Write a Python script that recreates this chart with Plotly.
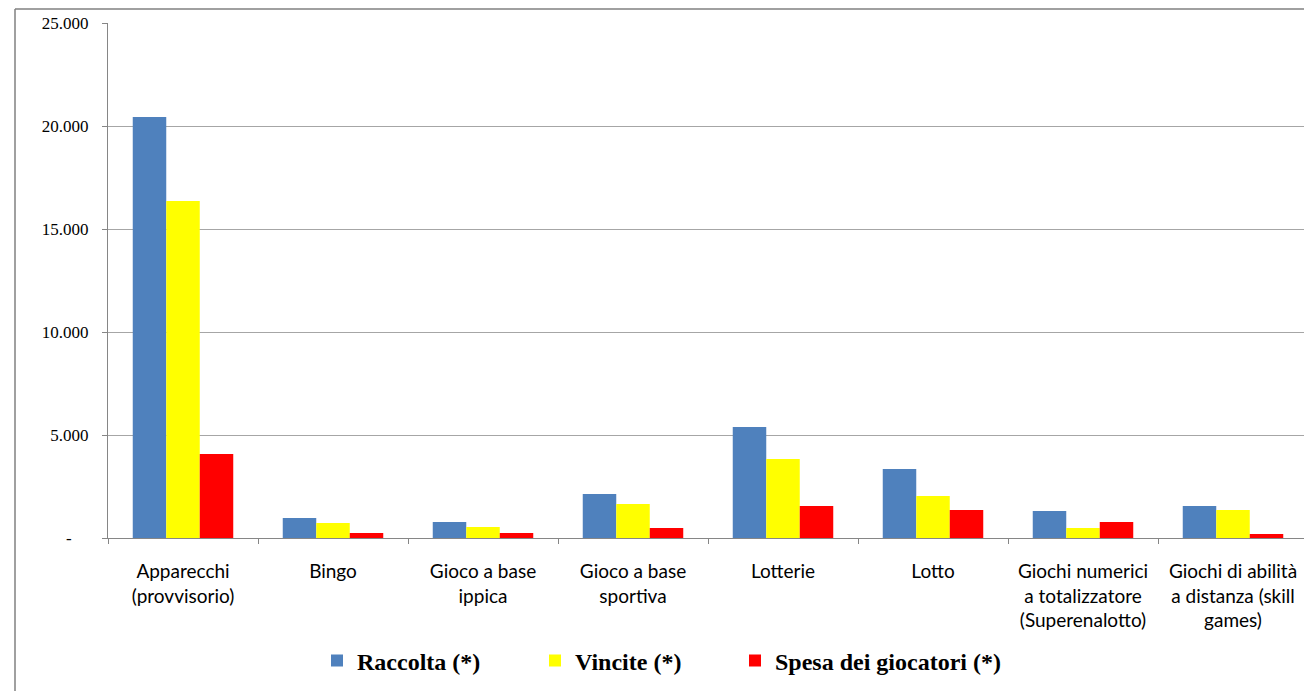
import plotly.graph_objects as go

categories = [
    "Apparecchi<br>(provvisorio)",
    "Bingo",
    "Gioco a base<br>ippica",
    "Gioco a base<br>sportiva",
    "Lotterie",
    "Lotto",
    "Giochi numerici<br>a totalizzatore<br>(Superenalotto)",
    "Giochi di abilità<br>a distanza (skill<br>games)",
]
raccolta = [20440, 970, 780, 2140, 5390, 3350, 1310, 1550]
vincite = [16360, 730, 530, 1650, 3830, 2040, 490, 1360]
spesa = [4080, 240, 240, 490, 1550, 1360, 780, 190]

series_names = ["Raccolta (*)", "Vincite (*)", "Spesa dei giocatori (*)"]
colors = ["#4F81BD", "#FFFF00", "#FF0000"]

y_tickvals = [0, 5000, 10000, 15000, 20000, 25000]
y_ticktext = ["-\u00a0\u00a0\u00a0\u00a0", "5.000", "10.000", "15.000", "20.000", "25.000"]

legend_ids = ["legend", "legend2", "legend3"]
legend_left = [317, 535, 735]  # screen px where each legend box starts

fig = go.Figure()
for name, vals, col, lid in zip(series_names, [raccolta, vincite, spesa], colors, legend_ids):
    fig.add_trace(go.Bar(x=categories, y=vals, name=name, legend=lid,
                         marker=dict(color=col, line=dict(width=0))))

# page body has an 8px default margin; compensate
OFF = 8
W, H = 1312 - OFF, 691 - OFF
L, R, T = 108 - OFF, 4, 23 - OFF
ph = 515
B = H - T - ph
pw = W - L - R

def px(xs):
    return (xs - OFF - L) / pw

def py(ys):
    return (H - B - (ys - OFF)) / ph

axis_col = "#868686"
legend_font = dict(family="Liberation Serif", size=24, color="black", weight="bold")

legends = {}
for lid, xl in zip(legend_ids, legend_left):
    legends[lid] = dict(
        orientation="h", x=px(xl), xanchor="left", y=py(661), yanchor="middle",
        font=legend_font, itemwidth=30, bgcolor="rgba(0,0,0,0)",
    )

fig.update_layout(
    width=W, height=H,
    margin=dict(l=L, r=R, t=T, b=B),
    paper_bgcolor="white", plot_bgcolor="white",
    barmode="group", bargap=0.33, bargroupgap=0,
    showlegend=True,
    font=dict(family="Lato", size=19, color="black"),
    xaxis=dict(
        type="category", tickson="boundaries", ticks="outside", ticklen=5,
        tickcolor=axis_col, showline=True, linecolor=axis_col, linewidth=1,
        showgrid=False, tickfont=dict(family="Lato", size=19, color="black"),
        ticklabelstandoff=16, range=[-0.5, 7.5],
    ),
    yaxis=dict(
        range=[0, 25000], tickvals=y_tickvals, ticktext=y_ticktext,
        ticks="outside", ticklen=5, tickcolor=axis_col,
        showline=True, linecolor=axis_col, linewidth=1,
        showgrid=True, gridcolor="#a6a6a6", gridwidth=1, zeroline=False,
        tickfont=dict(family="Liberation Serif", size=17, color="black"),
        ticklabelstandoff=10,
    ),
    shapes=[
        dict(type="line", xref="paper", yref="paper",
             x0=px(15), x1=px(15), y0=py(720), y1=py(9),
             line=dict(color="#808080", width=1.5)),
        dict(type="line", xref="paper", yref="paper",
             x0=px(15), x1=px(1330), y0=py(9), y1=py(9),
             line=dict(color="#808080", width=1.5)),
    ],
    **legends,
)

fig.write_html("out.html")
